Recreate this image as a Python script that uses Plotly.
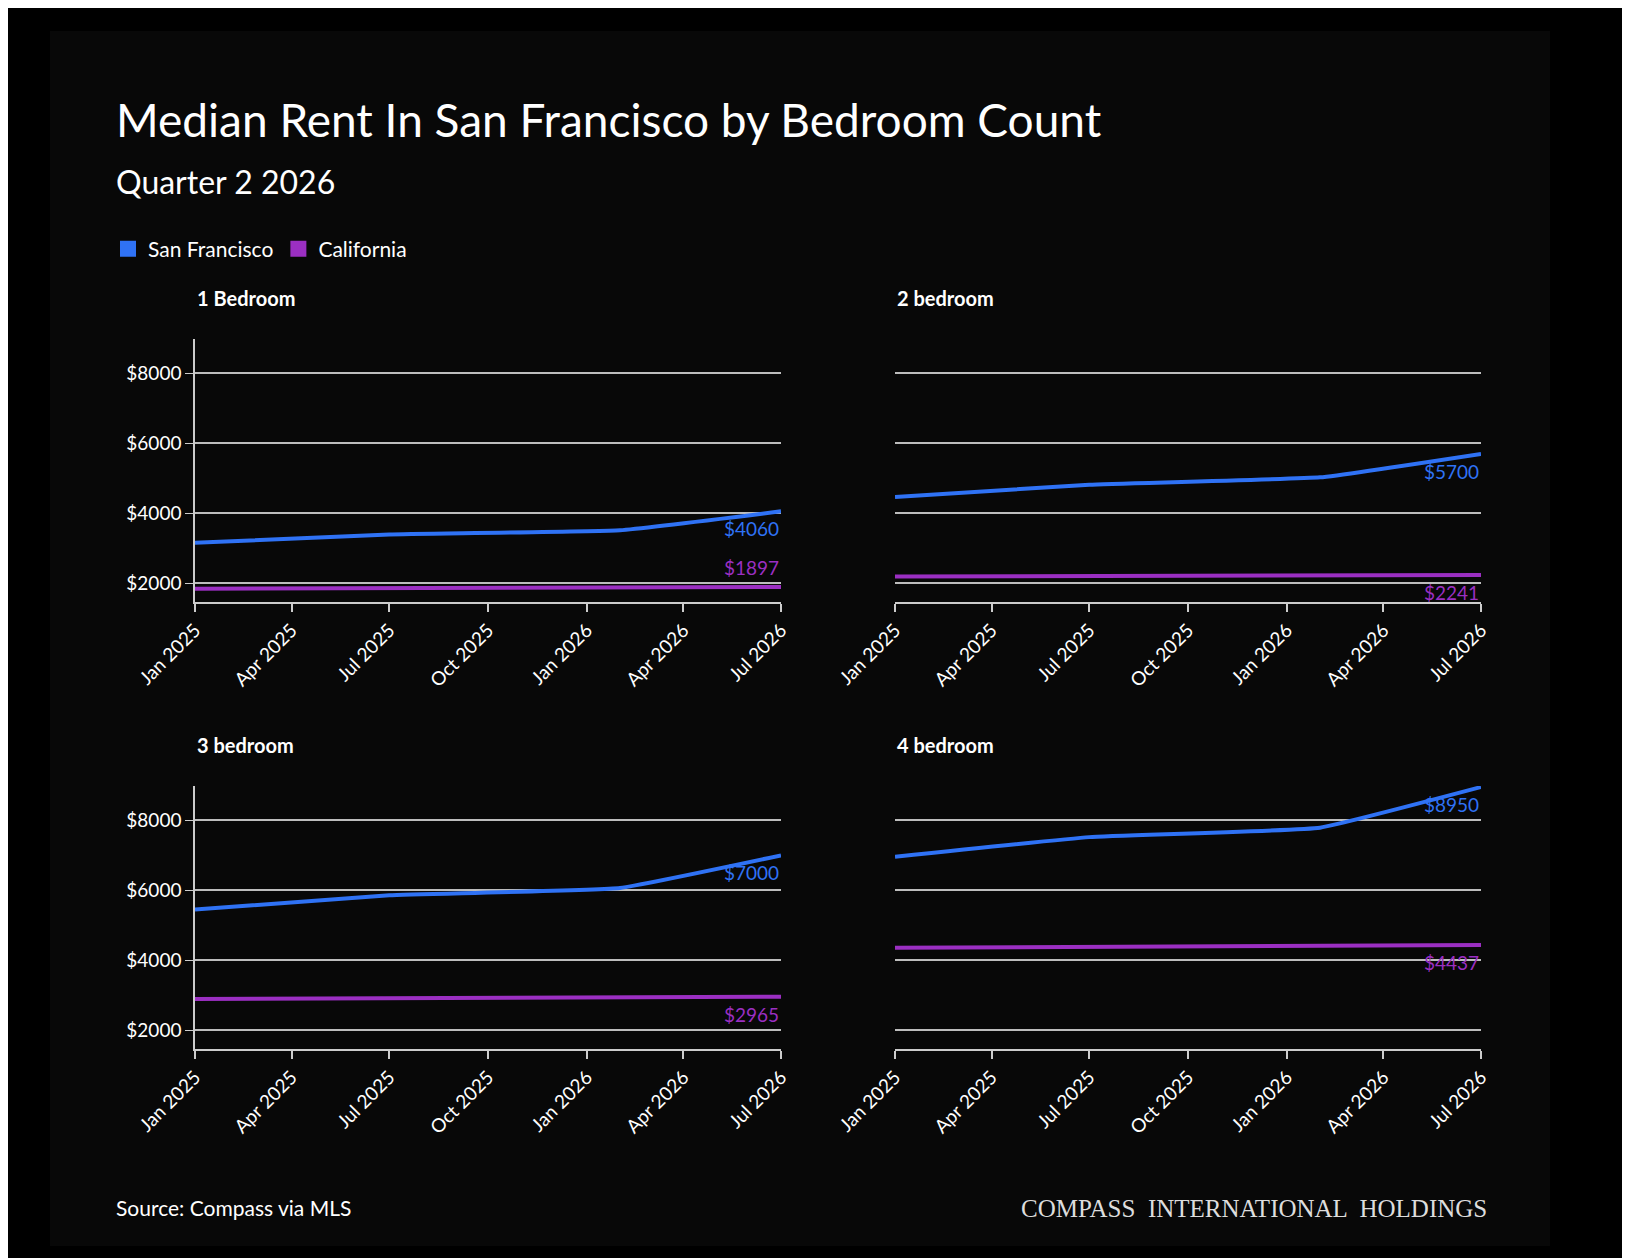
import plotly.graph_objs as graphObj

dates = ["2025-01-01", "2025-07-01", "2026-02-01", "2026-07-01"]

panelTitles = ["1 Bedroom", "2 bedroom", "3 bedroom", "4 bedroom"]
sfValues = [
    [3160, 3400, 3520, 4060],
    [4470, 4820, 5030, 5700],
    [5450, 5860, 6070, 7000],
    [6960, 7520, 7790, 8950],
]
caValues = [
    [1850, 1860, 1875, 1897],
    [2200, 2210, 2225, 2241],
    [2900, 2920, 2945, 2965],
    [4360, 4390, 4415, 4437],
]
caLabelAbove = [True, False, False, False]
yTicks = [2000, 4000, 6000, 8000]

BLUE = "#2f72f5"
PURPLE = "#9b2fc2"
FONT = "Lato"
W, H = 1630, 1258

xDomains = [[187 / W, 773 / W], [887 / W, 1473 / W]]
yDomains = [[1 - 594 / H, 1 - 331 / H], [1 - 1041 / H, 1 - 778 / H]]

fig = graphObj.Figure()
annotations = []

for i in range(4):
    row, col = i // 2, i % 2
    n = i + 1
    xa = "x" if n == 1 else "x%d" % n
    ya = "y" if n == 1 else "y%d" % n
    fig.add_trace(graphObj.Scatter(x=dates, y=caValues[i], mode="lines", line=dict(color=PURPLE, width=4),
                                   showlegend=False, xaxis=xa, yaxis=ya))
    fig.add_trace(graphObj.Scatter(x=dates, y=sfValues[i], mode="lines", line=dict(color=BLUE, width=4, shape="spline", smoothing=0.3),
                                   showlegend=False, xaxis=xa, yaxis=ya))
    showY = col == 0
    fig.layout["xaxis" if n == 1 else "xaxis%d" % n] = dict(
        domain=xDomains[col], anchor=ya, type="date", range=["2025-01-01", "2026-07-01"],
        dtick="M3", tick0="2025-01-01", tickformat="%b %Y", tickangle=-45,
        showgrid=False, showline=True, linecolor="#cccccc", linewidth=1.5,
        ticks="outside", tickcolor="#cccccc", ticklen=8, tickwidth=1.5, automargin=False,
        tickfont=dict(color="white", size=19, family=FONT), zeroline=False)
    fig.layout["yaxis" if n == 1 else "yaxis%d" % n] = dict(
        domain=yDomains[row], anchor=xa, range=[1470, 8980], tickvals=yTicks,
        ticktext=["$%d" % v for v in yTicks], showticklabels=showY, automargin=False,
        showgrid=True, gridcolor="#bdbdbd", gridwidth=1.5,
        showline=showY, linecolor="#cccccc", linewidth=1.5,
        ticks="outside" if showY else "", tickcolor="#cccccc", ticklen=8,
        tickfont=dict(color="white", size=19, family=FONT), zeroline=False)
    # panel title
    annotations.append(dict(xref="paper", yref="paper", x=xDomains[col][0], y=yDomains[row][1] + 27 / H,
                            xanchor="left", yanchor="bottom", showarrow=False, text="<b>%s</b>" % panelTitles[i],
                            font=dict(color="white", size=20, family=FONT)))
    # end value labels
    annotations.append(dict(xref=xa, yref=ya, x=dates[-1], y=sfValues[i][-1], xanchor="right", yanchor="top",
                            yshift=-4, showarrow=False, text="$%d" % sfValues[i][-1],
                            font=dict(color=BLUE, size=19, family=FONT)))
    annotations.append(dict(xref=xa, yref=ya, x=dates[-1], y=caValues[i][-1], xanchor="right",
                            yanchor="bottom" if caLabelAbove[i] else "top",
                            yshift=6 if caLabelAbove[i] else -4, showarrow=False, text="$%d" % caValues[i][-1],
                            font=dict(color=PURPLE, size=19, family=FONT)))

# legend swatches
fig.add_trace(graphObj.Scatter(x=[None], y=[None], mode="markers", name="San Francisco",
                               marker=dict(symbol="square", size=18, color=BLUE)))
fig.add_trace(graphObj.Scatter(x=[None], y=[None], mode="markers", name="California",
                               marker=dict(symbol="square", size=18, color=PURPLE)))

annotations += [
    dict(xref="paper", yref="paper", x=106 / W, y=1 - 112 / H, xanchor="left", yanchor="middle", showarrow=False,
         text="Median Rent In San Francisco by Bedroom Count", font=dict(color="white", size=46, family=FONT)),
    dict(xref="paper", yref="paper", x=106 / W, y=1 - 173 / H, xanchor="left", yanchor="middle", showarrow=False,
         text="Quarter 2 2026", font=dict(color="white", size=32, family=FONT)),
    dict(xref="paper", yref="paper", x=106 / W, y=1 - 1199 / H, xanchor="left", yanchor="middle", showarrow=False,
         text="Source: Compass via MLS", font=dict(color="white", size=21, family=FONT)),
    dict(xref="paper", yref="paper", x=1481 / W, y=1 - 1200 / H, xanchor="right", yanchor="middle", showarrow=False,
         text="COMPASS  INTERNATIONAL  HOLDINGS", font=dict(color="#dddddd", size=25, family="Liberation Serif")),
]

fig.update_layout(
    width=W, height=H, margin=dict(l=0, r=0, t=0, b=0, autoexpand=False),
    paper_bgcolor="#000000", plot_bgcolor="rgba(0,0,0,0)",
    annotations=annotations,
    shapes=[dict(type="rect", xref="paper", yref="paper", x0=42 / W, x1=1542 / W, y0=1 - 1238 / H, y1=1 - 23 / H,
                 fillcolor="#080808", line=dict(width=0), layer="below")],
    legend=dict(orientation="h", x=100 / W, y=1 - 241 / H, xanchor="left", yanchor="middle",
                bgcolor="rgba(0,0,0,0)", font=dict(color="white", size=21, family=FONT),
                itemwidth=30, tracegroupgap=0),
)

fig.write_html("out.html")
